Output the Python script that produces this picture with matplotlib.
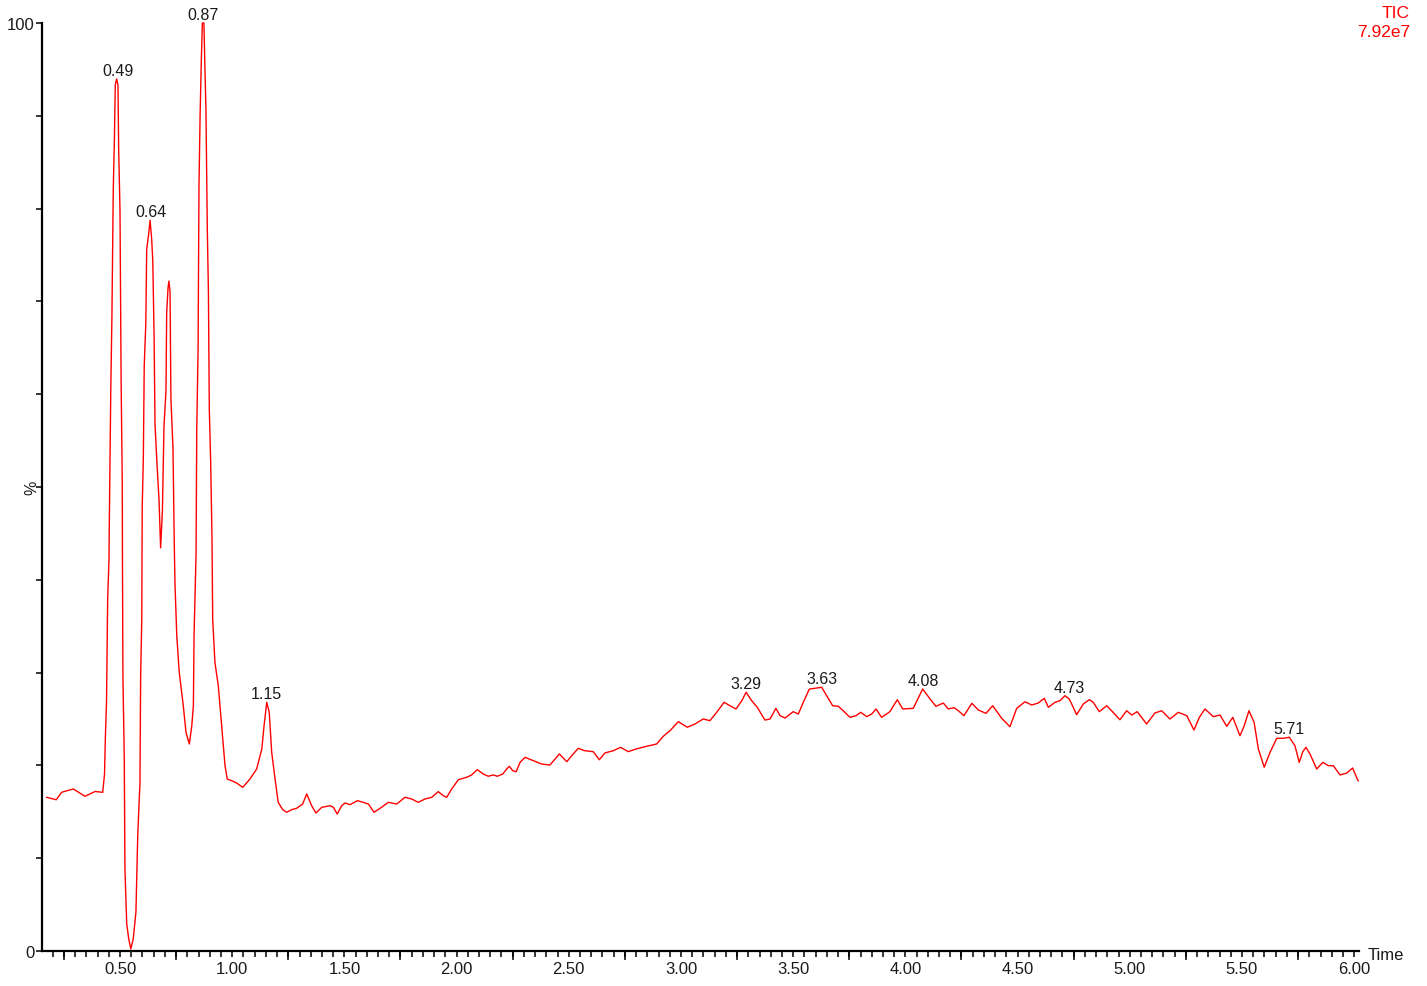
import numpy as np
import matplotlib
matplotlib.use("Agg")
import matplotlib.pyplot as plt
from matplotlib.ticker import FixedLocator, MultipleLocator, FuncFormatter

plt.rcParams['font.family'] = ['Liberation Sans', 'DejaVu Sans']

# TIC chromatogram (time in min, relative intensity in %)
time = [0.173, 0.216, 0.240, 0.255, 0.292, 0.344, 0.389, 0.423, 0.431, 0.435,
        0.440, 0.445, 0.451, 0.452, 0.459, 0.464, 0.470, 0.475, 0.479, 0.485,
        0.491, 0.494, 0.500, 0.505, 0.510, 0.511, 0.513, 0.519, 0.522, 0.530,
        0.539, 0.548, 0.559, 0.571, 0.579, 0.589, 0.592, 0.597, 0.599, 0.604,
        0.608, 0.615, 0.619, 0.628, 0.634, 0.641, 0.646, 0.652, 0.656, 0.665,
        0.674, 0.681, 0.689, 0.696, 0.705, 0.708, 0.714, 0.718, 0.723, 0.727,
        0.736, 0.742, 0.745, 0.753, 0.764, 0.782, 0.794, 0.809, 0.820, 0.827,
        0.830, 0.839, 0.842, 0.848, 0.852, 0.857, 0.862, 0.867, 0.874, 0.878,
        0.883, 0.889, 0.894, 0.898, 0.904, 0.910, 0.913, 0.923, 0.938, 0.953,
        0.968, 0.978, 0.998, 1.020, 1.047, 1.079, 1.109, 1.132, 1.142, 1.154,
        1.165, 1.176, 1.191, 1.205, 1.225, 1.243, 1.265, 1.287, 1.314, 1.332,
        1.354, 1.373, 1.399, 1.436, 1.451, 1.468, 1.488, 1.503, 1.525, 1.558,
        1.584, 1.607, 1.632, 1.659, 1.696, 1.733, 1.770, 1.800, 1.829, 1.859,
        1.889, 1.918, 1.941, 1.956, 1.978, 2.008, 2.045, 2.067, 2.092, 2.119,
        2.141, 2.164, 2.181, 2.206, 2.223, 2.235, 2.250, 2.265, 2.283, 2.305,
        2.342, 2.379, 2.416, 2.439, 2.458, 2.476, 2.491, 2.513, 2.542, 2.572,
        2.609, 2.636, 2.661, 2.698, 2.731, 2.765, 2.800, 2.847, 2.892, 2.921,
        2.951, 2.988, 3.028, 3.062, 3.099, 3.129, 3.159, 3.192, 3.218, 3.245,
        3.271, 3.290, 3.315, 3.340, 3.374, 3.397, 3.423, 3.441, 3.464, 3.500,
        3.523, 3.545, 3.572, 3.597, 3.627, 3.649, 3.676, 3.701, 3.723, 3.753,
        3.780, 3.801, 3.828, 3.850, 3.869, 3.894, 3.931, 3.964, 3.988, 4.035,
        4.077, 4.110, 4.136, 4.169, 4.191, 4.217, 4.236, 4.261, 4.296, 4.325,
        4.359, 4.389, 4.429, 4.466, 4.496, 4.533, 4.563, 4.592, 4.619, 4.637,
        4.667, 4.689, 4.711, 4.730, 4.741, 4.763, 4.793, 4.820, 4.837, 4.864,
        4.897, 4.919, 4.956, 4.986, 5.009, 5.033, 5.075, 5.112, 5.142, 5.179,
        5.216, 5.254, 5.286, 5.310, 5.335, 5.372, 5.402, 5.432, 5.459, 5.491,
        5.509, 5.531, 5.554, 5.573, 5.599, 5.625, 5.655, 5.684, 5.711, 5.736,
        5.755, 5.771, 5.785, 5.803, 5.833, 5.860, 5.885, 5.907, 5.937, 5.967,
        5.993, 6.014, 6.018]
intensity = [16.56, 16.30, 17.10, 17.21, 17.46, 16.67, 17.19, 17.10, 19.07, 23.17,
             26.94, 37.93, 42.24, 45.34, 60.57, 68.38, 82.09, 87.42, 93.32, 93.97,
             93.32, 86.47, 79.81, 61.34, 50.68, 42.24, 29.63, 20.91, 8.84, 2.91,
             1.29, 0.22, 1.29, 4.20, 12.42, 18.18, 29.67, 35.78, 47.82, 53.15,
             63.05, 67.62, 75.61, 77.33, 78.74, 76.76, 74.47, 66.10, 56.77, 52.39,
             48.58, 43.44, 47.44, 56.57, 60.39, 68.76, 71.43, 72.19, 71.05, 59.43,
             54.29, 43.63, 39.55, 33.98, 30.03, 26.43, 23.57, 22.31, 24.28, 26.43,
             33.98, 42.87, 56.20, 64.96, 82.47, 90.09, 95.60, 100.0, 100.0, 95.60,
             90.66, 77.90, 71.05, 58.29, 52.77, 44.40, 35.78, 31.11, 28.59, 24.28,
             19.97, 18.53, 18.35, 18.10, 17.64, 18.53, 19.61, 21.77, 24.28, 26.80,
             25.72, 21.41, 18.53, 16.02, 15.23, 14.95, 15.23, 15.38, 15.84, 16.92,
             15.66, 14.87, 15.48, 15.66, 15.48, 14.76, 15.66, 15.95, 15.77, 16.20,
             16.02, 15.84, 14.95, 15.38, 16.02, 15.84, 16.56, 16.38, 16.02, 16.38,
             16.56, 17.17, 16.74, 16.56, 17.46, 18.46, 18.72, 18.97, 19.54, 19.07,
             18.83, 18.97, 18.83, 19.07, 19.61, 19.90, 19.43, 19.32, 20.33, 20.87,
             20.51, 20.15, 20.04, 20.69, 21.23, 20.77, 20.40, 21.05, 21.84, 21.58,
             21.48, 20.61, 21.34, 21.58, 21.95, 21.48, 21.77, 22.06, 22.31, 23.14,
             23.74, 24.71, 24.11, 24.46, 25.00, 24.82, 25.72, 26.80, 26.43, 26.08,
             26.97, 27.88, 26.97, 26.26, 24.89, 25.00, 26.15, 25.36, 25.11, 25.79,
             25.54, 26.80, 28.23, 28.31, 28.42, 27.51, 26.43, 26.37, 25.89, 25.18,
             25.36, 25.72, 25.25, 25.54, 26.08, 25.18, 25.79, 27.08, 26.08, 26.15,
             28.23, 27.16, 26.37, 26.72, 26.08, 26.22, 25.89, 25.36, 26.69, 25.97,
             25.61, 26.43, 25.08, 24.17, 26.15, 26.86, 26.51, 26.72, 27.23, 26.26,
             26.80, 26.97, 27.51, 27.16, 26.62, 25.46, 26.62, 27.08, 26.80, 25.79,
             26.43, 25.89, 24.92, 25.89, 25.43, 25.79, 24.46, 25.65, 25.89, 25.00,
             25.72, 25.36, 23.81, 25.18, 26.08, 25.25, 25.43, 24.21, 25.18, 23.20,
             24.21, 25.89, 24.64, 21.77, 19.80, 21.41, 22.92, 22.92, 23.03, 22.12,
             20.33, 21.48, 21.95, 21.23, 19.61, 20.33, 19.97, 19.97, 18.97, 19.18,
             19.72, 18.53, 18.35]

# labelled peaks
peak_labels = ["0.49", "0.64", "0.87", "1.15", "3.29", "3.63", "4.08", "4.73", "5.71"]
peak_heights = [94.0, 78.7, 100.0, 26.8, 27.9, 28.4, 28.2, 27.5, 23.0]

x_labels = ["0.50", "1.00", "1.50", "2.00", "2.50", "3.00", "3.50",
            "4.00", "4.50", "5.00", "5.50", "6.00"]

W, H = 1427, 987
fig = plt.figure(figsize=(W / 100, H / 100), dpi=100)
ax = fig.add_axes([42 / W, 1 - 952 / H, (1358.5 - 42) / W, (952 - 24) / H])

txt = '#1a1a1a'
ax.plot(time, intensity, color='#ff0000', lw=1.0, clip_on=False)

ax.set_xlim(0.1524, 6.0192)
ax.set_ylim(0, 100)

for s in ['top', 'right']:
    ax.spines[s].set_visible(False)
for s in ['left', 'bottom']:
    ax.spines[s].set_linewidth(1.6)
    ax.spines[s].set_color('black')

# x axis: labels every 0.5, small ticks every 0.05
ax.xaxis.set_major_locator(FixedLocator([float(v) for v in x_labels]))
ax.set_xticklabels(x_labels)
ax.xaxis.set_minor_locator(MultipleLocator(0.05))
ax.tick_params(axis='x', which='both', direction='out', length=4.5, width=1.1,
               color='black', labelsize=12, labelcolor=txt, pad=3)

# longer ticks half way between labels
sec = ax.secondary_xaxis('bottom')
sec.set_xticks(np.arange(0.25, 6.0, 0.5))
sec.tick_params(axis='x', length=6.5, width=1.1, labelbottom=False)
sec.spines['bottom'].set_visible(False)

# y axis: ticks every 10 %, only 0 and 100 labelled
ax.set_yticks(np.arange(0, 101, 10))
ax.yaxis.set_major_formatter(FuncFormatter(lambda v, p: '%d' % v if v in (0, 100) else ''))
ax.tick_params(axis='y', direction='out', length=4.5, width=1.1, color='black',
               labelsize=12, labelcolor=txt, pad=1)

ax.text(-10 / (1358.5 - 42), 0.5, '%', transform=ax.transAxes, rotation=90,
        ha='center', va='center', fontsize=11.5, color=txt)

for lab, h in zip(peak_labels, peak_heights):
    ax.annotate(lab, (float(lab), h), xytext=(0, 3), textcoords='offset points',
                ha='center', va='baseline', fontsize=11.5, color=txt,
                annotation_clip=False)

fig.text(1368 / W, 1 - 960.5 / H, 'Time', ha='left', va='baseline',
         fontsize=12, color=txt)
fig.text(1410 / W, 1 - 18 / H, 'TIC', ha='right', va='baseline',
         fontsize=12.5, color='#ff0000')
fig.text(1410 / W, 1 - 37 / H, '7.92e7', ha='right', va='baseline',
         fontsize=12.5, color='#ff0000')

fig.savefig('out.png', dpi=100, facecolor='white')
